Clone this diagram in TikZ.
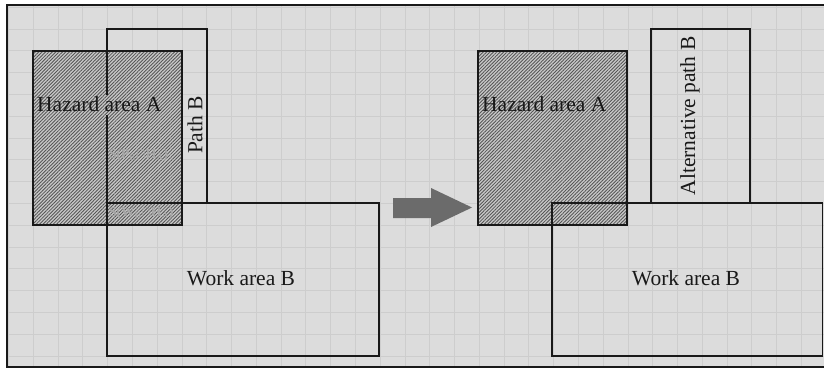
\documentclass[tikz,border=0pt]{standalone}
\usepackage{fontspec}
\setmainfont{Liberation Serif}
\usetikzlibrary{patterns.meta}
\definecolor{bgc}{HTML}{DCDCDC}
\definecolor{gridc}{HTML}{CDCDCD}
\definecolor{hatchbg}{HTML}{C8C8C8}
\definecolor{hatchln}{HTML}{555555}
\definecolor{arrowc}{HTML}{6B6B6B}
\definecolor{faint}{HTML}{A6A6A6}
\tikzset{
  boxline/.style={draw=black!90, line width=1.4pt},
  hazard/.style={fill=hatchbg},
  hatch/.style={pattern={Lines[angle=45,distance=2.4pt,line width=0.85pt]}, pattern color=hatchln},
  lbl/.style={inner sep=0pt, font=\fontsize{21.5}{25}\selectfont, text=black!90},
  faintlbl/.style={inner sep=0pt, font=\fontsize{13.5}{15}\selectfont\bfseries, text=faint},
}
\begin{document}
\begin{tikzpicture}[x=1pt,y=-1pt]
\useasboundingbox (0,0) rectangle (824,369);
\clip (0,0) rectangle (824,369);
\fill[white] (0,0) rectangle (824,369);
\fill[bgc] (7,5) rectangle (830,367);
% grid
\foreach \k in {-1,...,31} {
  \draw[gridc, line width=0.9pt] ({33.3+24.78*\k},5) -- ({33.3+24.78*\k},367);
}
\foreach \k in {-1,...,15} {
  \draw[gridc, line width=0.9pt] (7,{29+21.8*\k}) -- (830,{29+21.8*\k});
}
% frame
\draw[line width=2.6pt, black!90] (835,5) -- (7,5) -- (7,367) -- (835,367);

% ---------- left situation ----------
\fill[hazard] (33,51) rectangle (182,225);
\fill[hatch] (33,51) rectangle (182,225);
\draw[boxline] (33,51) rectangle (182,225);
% path B (left edge broken by the hazard label)
\draw[boxline] (107,95) -- (107,29) -- (207,29) -- (207,203);
\draw[boxline] (107,115) -- (107,203);
% work area B
\draw[boxline] (107,203) rectangle (379,356);

\node[lbl, anchor=west] (hazA) at (37,104) {Hazard area A};
\node[lbl, rotate=90] (pathB) at (195,125) {Path B};
\node[lbl] (workB) at (241,278) {Work area B};
\node[faintlbl, anchor=west] (sP) at (109,155) {S(P$_{\mathrm{B}}\cap$H$_{\mathrm{A}}$)};
\node[faintlbl, anchor=west] (sW) at (109,213) {S(W$_{\mathrm{B}}\cap$H$_{\mathrm{A}}$)};

% ---------- arrow ----------
\fill[arrowc] (393,198) -- (431,198) -- (431,188) -- (472,207.5) -- (431,227) -- (431,218) -- (393,218) -- cycle;

% ---------- right situation ----------
\fill[hazard] (478,51) rectangle (627,225);
\fill[hatch] (478,51) rectangle (627,225);
\draw[boxline] (478,51) rectangle (627,225);
\draw[boxline] (651,29) rectangle (750,203);
\draw[boxline] (552,203) rectangle (822.7,356);

\node[lbl, anchor=west] (hazA2) at (482,104) {Hazard area A};
\node[lbl, rotate=90] (altB) at (690,116) {Alternative path B};
\node[lbl] (workB2) at (686,278) {Work area B};
\end{tikzpicture}
\end{document}
